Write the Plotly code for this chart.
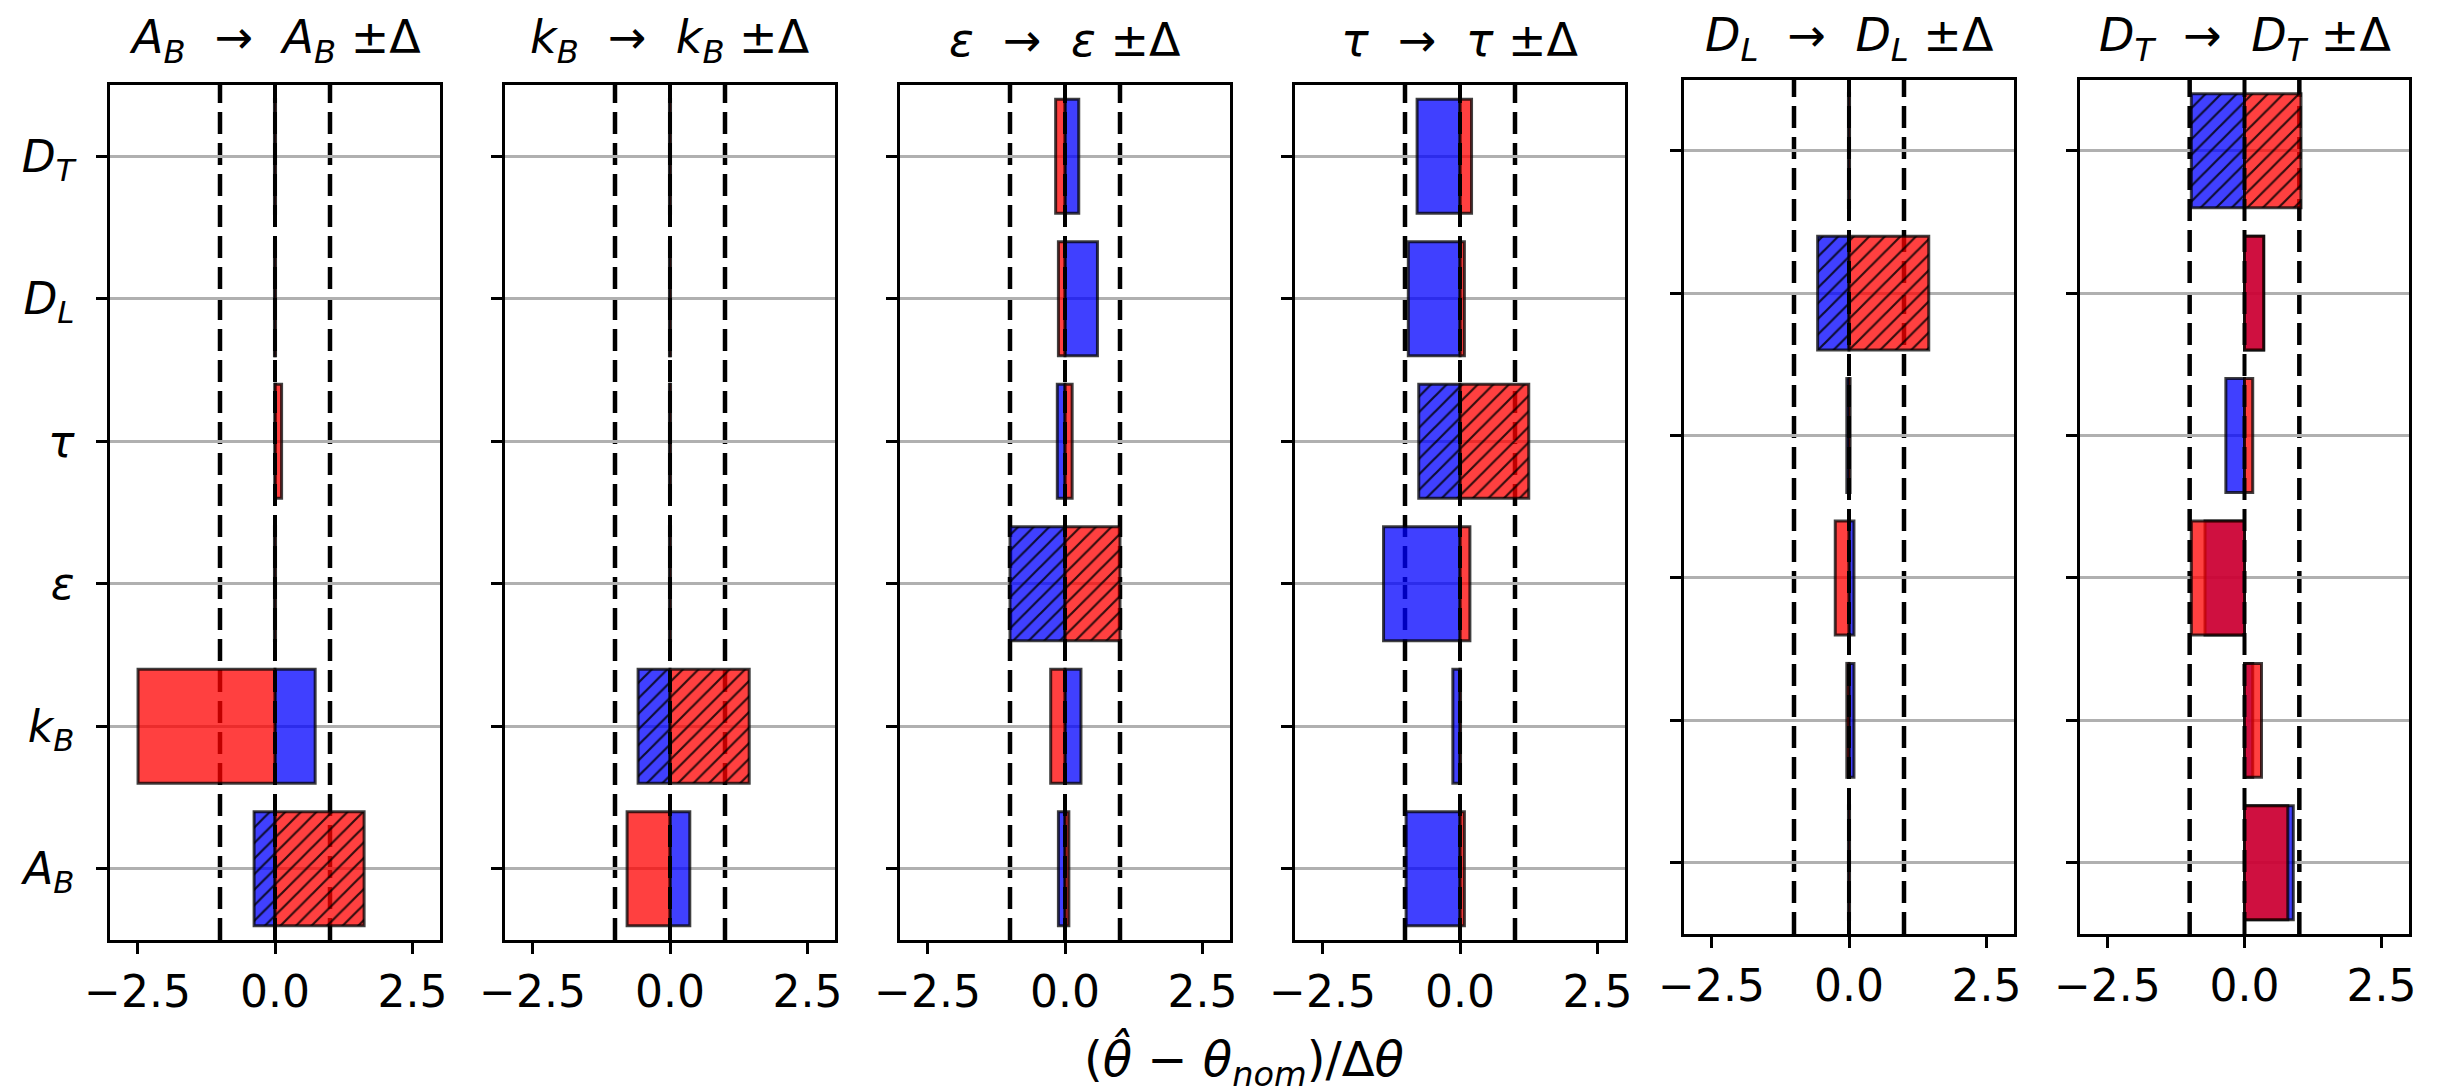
import plotly.graph_objects as go

# ---------------- data ----------------
param_labels = [
    "<i>A</i><sub><i>B</i></sub>",
    "<i>k</i><sub><i>B</i></sub>",
    "<i>ε</i>",
    "<i>τ</i>",
    "<i>D</i><sub><i>L</i></sub>",
    "<i>D</i><sub><i>T</i></sub>",
]

# estimated (theta_hat - theta_nom)/dtheta, order: A_B, k_B, eps, tau, D_L, D_T
# perturbation A_B
plus_A_B  = [1.62, -2.49, 0.01, 0.12, 0.01, 0.01]
minus_A_B = [-0.38, 0.73, -0.01, 0.01, -0.01, -0.01]
# perturbation k_B
plus_k_B  = [-0.78, 1.44, 0.01, 0.01, 0.01, 0.01]
minus_k_B = [0.36, -0.58, -0.01, -0.01, -0.01, -0.01]
# perturbation eps
plus_eps  = [0.07, -0.26, 1.00, 0.13, -0.12, -0.17]
minus_eps = [-0.12, 0.29, -1.00, -0.14, 0.59, 0.25]
# perturbation tau
plus_tau  = [0.08, 0.01, 0.18, 1.25, 0.08, 0.21]
minus_tau = [-0.98, -0.13, -1.39, -0.75, -0.94, -0.78]
# perturbation D_L
plus_D_L  = [0.01, -0.04, -0.25, 0.02, 1.45, 0.01]
minus_D_L = [-0.01, 0.09, 0.09, -0.04, -0.57, -0.01]
# perturbation D_T
plus_D_T  = [0.79, 0.31, -0.97, 0.15, 0.35, 1.03]
minus_D_T = [0.89, 0.15, -0.72, -0.34, 0.35, -0.97]

plus_sets = [plus_A_B, plus_k_B, plus_eps, plus_tau, plus_D_L, plus_D_T]
minus_sets = [minus_A_B, minus_k_B, minus_eps, minus_tau, minus_D_L, minus_D_T]

x_ticks = [-2.5, 0.0, 2.5]
ref_lines = [-1.0, 1.0]
x_label = "(<i>θ\u0302</i>\u00a0−\u00a0<i>θ</i><sub><i>nom</i></sub>)/Δ<i>θ</i>"

# ---------------- layout geometry (pixels) ----------------
W, H = 2438, 1090
panel_x = [(102, 432), (497, 827), (892, 1222), (1287, 1617), (1676, 2006), (2072, 2401)]
panel_y = [(77, 932)] * 4 + [(71.5, 926)] * 2
title_center = [32] * 4 + [30] * 2

FONT = "DejaVu Sans"
RED = "rgba(255,0,0,0.75)"
BLUE = "rgba(0,0,255,0.75)"
EDGE = "rgba(0,0,0,0.75)"
DASH = "22px,9px"
TICK_SIZE = 44

fig = go.Figure()
layout = dict(
    template="none",
    width=W, height=H, autosize=False,
    margin=dict(l=0, r=0, t=0, b=0, pad=0),
    paper_bgcolor="white", plot_bgcolor="white",
    barmode="overlay", showlegend=False,
    font=dict(family=FONT, size=44, color="black"),
)
shapes = []
annotations = []

for i in range(6):
    n = i + 1
    xa = "x" if n == 1 else f"x{n}"
    ya = "y" if n == 1 else f"y{n}"
    hatch = ["/" if j == i else "" for j in range(6)]
    for vals, col in ((minus_sets[i], BLUE), (plus_sets[i], RED)):
        fig.add_trace(go.Bar(
            x=vals, y=param_labels, orientation="h", width=0.8,
            xaxis=xa, yaxis=ya,
            marker=dict(
                color=col,
                line=dict(color=EDGE, width=3),
                pattern=dict(shape=hatch, fgcolor="black", fgopacity=0.8,
                             size=11, solidity=0.2, fillmode="overlay"),
            ),
            hoverinfo="skip",
        ))
    x0, x1 = panel_x[i]
    t, b = panel_y[i]
    layout["xaxis" if n == 1 else f"xaxis{n}"] = dict(
        domain=[x0 / W, x1 / W], anchor=ya, range=[-3, 3], automargin=False,
        tickvals=x_ticks, tickformat=".1f", ticks="outside", ticklen=11,
        tickwidth=2.5, tickcolor="black", showline=True, linecolor="black",
        linewidth=2.5, mirror=True, showgrid=False, zeroline=False,
        tickfont=dict(family=FONT, size=TICK_SIZE, color="black"),
    )
    layout["yaxis" if n == 1 else f"yaxis{n}"] = dict(
        domain=[1 - b / H, 1 - t / H], anchor=xa, type="category", automargin=False,
        categoryorder="array", categoryarray=param_labels, range=[-0.5, 5.5],
        showgrid=True, gridcolor="#b0b0b0", gridwidth=2.5,
        ticks="outside", ticklen=11, tickwidth=2.5, tickcolor="black",
        ticklabelstandoff=13,
        showticklabels=(n == 1), showline=True, linecolor="black",
        linewidth=2.5, mirror=True, zeroline=False,
        tickfont=dict(family=FONT, size=TICK_SIZE, color="black"),
    )
    for xv in ref_lines:
        shapes.append(dict(type="line", xref=xa, yref="paper",
                           x0=xv, x1=xv, y0=1 - b / H, y1=1 - t / H, layer="below",
                           line=dict(color="black", width=4.5, dash=DASH)))
    shapes.append(dict(type="line", xref=xa, yref="paper",
                       x0=0, x1=0, y0=1 - b / H, y1=1 - t / H, layer="above",
                       line=dict(color="black", width=4, dash=DASH)))
    lab = param_labels[i]
    annotations.append(dict(
        text=f"{lab}\u00a0\u00a0→\u00a0\u00a0{lab}\u00a0±Δ",
        xref="paper", yref="paper", x=(x0 + x1) / 2 / W, y=1 - title_center[i] / H,
        xanchor="center", yanchor="middle", showarrow=False,
        font=dict(family=FONT, size=46, color="black"),
    ))

annotations.append(dict(
    text=x_label, xref="paper", yref="paper", x=1236 / W, y=1 - 1018 / H,
    xanchor="center", yanchor="top", showarrow=False,
    font=dict(family=FONT, size=48, color="black"),
))

layout["shapes"] = shapes
layout["annotations"] = annotations
fig.update_layout(**layout)
fig.write_html("out.html")
